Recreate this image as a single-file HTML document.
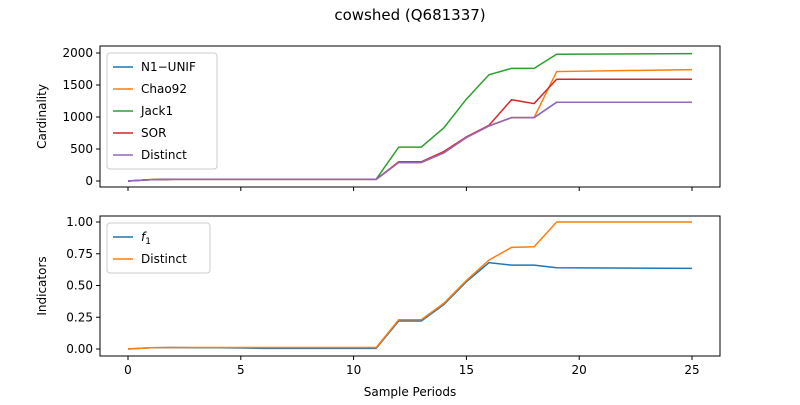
<!DOCTYPE html>
<html><head><meta charset="utf-8"><style>
body{margin:0;background:#fff}
text{font-family:"DejaVu Sans","Liberation Sans",sans-serif;fill:#000}
</style></head><body>
<svg id="c" width="800" height="400" xmlns="http://www.w3.org/2000/svg">
<text x="410" y="20" font-size="15" text-anchor="middle">cowshed (Q681337)</text>
</svg>
<script>
const xs=[0,1,2,3,4,5,6,7,8,9,10,11,12,13,14,15,16,17,18,19,25];
const distinct=[0,20,25,25,25,25,25,25,25,25,25,25,290,290,440,680,860,990,990,1230,1230];
const n1unif=[0,20,25,25,25,25,25,25,25,25,25,25,290,290,440,680,860,990,990,1230,1230];
const chao92=[0,20,25,25,25,25,25,25,25,25,25,25,290,290,440,680,860,990,990,1710,1740];
const jack1=[0,22,28,28,28,28,28,28,28,28,28,28,530,530,830,1280,1660,1760,1760,1980,1990];
const sor=[0,21,27,27,27,27,27,27,27,27,27,27,300,300,460,690,870,1270,1210,1590,1590];
const f1=[0,0.01,0.012,0.01,0.01,0.008,0.005,0.005,0.005,0.005,0.005,0.005,0.22,0.22,0.35,0.53,0.68,0.66,0.66,0.64,0.635];
const distinctInd=[0,0.01,0.012,0.012,0.012,0.012,0.012,0.012,0.012,0.012,0.012,0.012,0.23,0.23,0.36,0.54,0.70,0.80,0.805,1.0,1.0];
const topTicks=[0,500,1000,1500,2000];
const botTicks=[0,0.25,0.5,0.75,1.0];
const xTicks=[0,5,10,15,20,25];
const svg=document.getElementById('c');const NS='http://www.w3.org/2000/svg';
function mk(t,a,p){const e=document.createElementNS(NS,t);for(const k in a)e.setAttribute(k,a[k]);(p||svg).appendChild(e);return e;}
const X=v=>128+v*(692-128)/25;
const Yt=v=>181-v*(181-53)/2000;
const Yb=v=>349-v*(349-222)/1;
function axes(top,bot,Y,ticks,fmt,name,label,showX){
  const r=mk('rect',{x:100,y:top,width:620,height:bot-top,fill:'none',stroke:'#000','stroke-width':1});
  
  ticks.forEach(t=>{const y=Y(t);mk('line',{x1:96,x2:100,y1:y,y2:y,stroke:'#000'});
    const tx=mk('text',{x:93,y:y+4,'font-size':12,'text-anchor':'end'});tx.textContent=fmt(t);
    });
  xTicks.forEach(t=>{const x=X(t);mk('line',{x1:x,x2:x,y1:bot,y2:bot+4,stroke:'#000'});
    if(showX){const tx=mk('text',{x:x,y:bot+18,'font-size':12,'text-anchor':'middle'});tx.textContent=t;
    }});
  const yl=mk('text',{x:0,y:0,'font-size':12,'text-anchor':'middle',transform:`translate(46,${(top+bot)/2}) rotate(-90)`});
  yl.textContent=label;
}
axes(46,187,Yt,topTicks,t=>t,'top','Cardinality',false);
axes(216,356,Yb,botTicks,t=>t.toFixed(2),'bottom','Indicators',true);
const xl=mk('text',{x:410,y:396,'font-size':12,'text-anchor':'middle'});xl.textContent='Sample Periods';

function line(vals,Y,col,name){const p=mk('polyline',{points:vals.map((v,i)=>X(xs[i])+','+Y(v)).join(' '),fill:'none',stroke:col,'stroke-width':1.5});
  }
line(n1unif,Yt,'#1f77b4','line-n1-unif');line(chao92,Yt,'#ff7f0e','line-chao92');line(jack1,Yt,'#2ca02c','line-jack1');
line(sor,Yt,'#d62728','line-sor');line(distinct,Yt,'#9467bd','line-distinct');
line(f1,Yb,'#1f77b4','line-f1');line(distinctInd,Yb,'#ff7f0e','line-distinct-indicator');
function legend(x,y,w,items,name){const r=mk('rect',{x:x,y:y,width:w,height:items.length*22+6,fill:'#fff',stroke:'#ccc',rx:3});
  
  items.forEach((it,i)=>{const cy=y+14+i*22;mk('line',{x1:x+6,x2:x+26,y1:cy,y2:cy,stroke:it[1],'stroke-width':1.5});
    const t=mk('text',{x:x+34,y:cy+4,'font-size':12});t.innerHTML=it[0];
    });}
legend(107,53,110,[['N1−UNIF','#1f77b4'],['Chao92','#ff7f0e'],['Jack1','#2ca02c'],['SOR','#d62728'],['Distinct','#9467bd']],'top-legend');
legend(107,223,103,[['<tspan font-style="italic">f</tspan><tspan font-size="9" dy="3">1</tspan>','#1f77b4'],['Distinct','#ff7f0e']],'bottom-legend');
</script>
</body></html>
